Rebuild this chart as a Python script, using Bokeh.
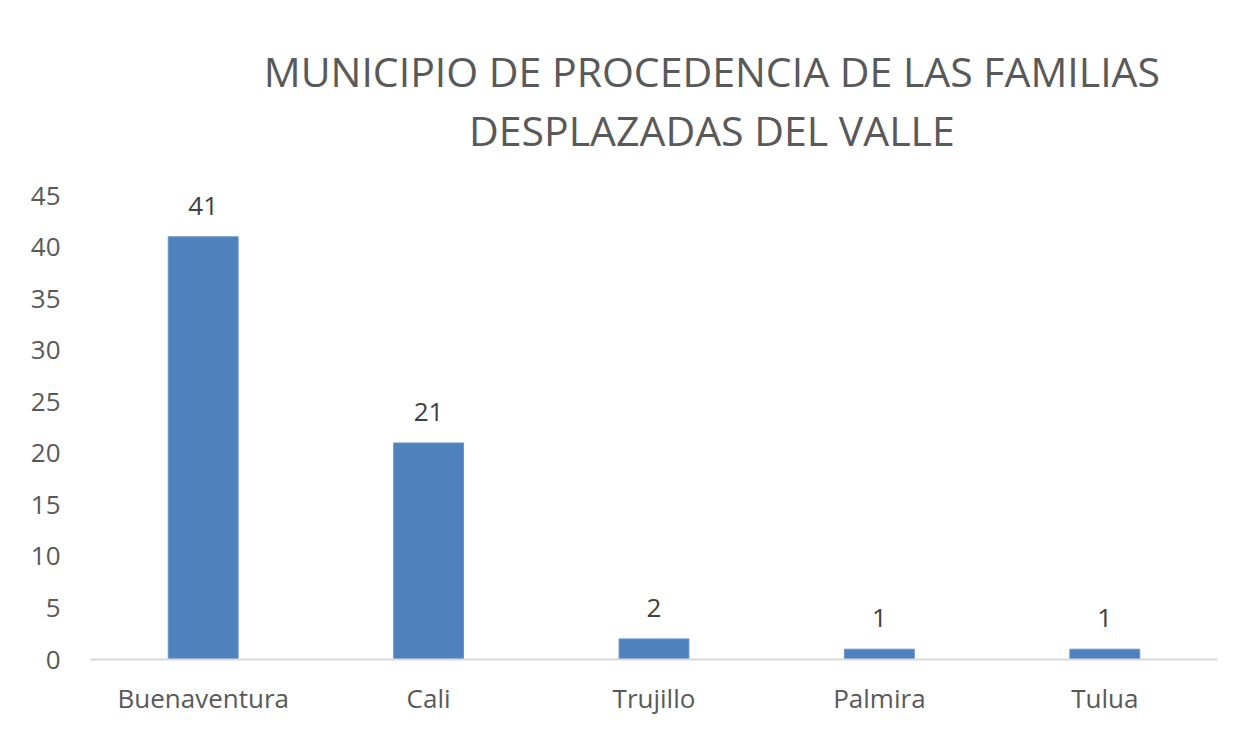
from bokeh.plotting import figure
from bokeh.models import ColumnDataSource, Range1d, FixedTicker, LabelSet
from bokeh.layouts import column
from bokeh.core.properties import value
from bokeh.embed import file_html
from bokeh.resources import INLINE

categories = ["Buenaventura", "Cali", "Trujillo", "Palmira", "Tulua"]
values = [41, 21, 2, 1, 1]
y_ticks = [0, 5, 10, 15, 20, 25, 30, 35, 40, 45]
title_lines = ["MUNICIPIO DE PROCEDENCIA DE LAS FAMILIAS", "DESPLAZADAS DEL VALLE"]

FONT = "Open Sans"
GRAY = "#595959"
W, H = 1236, 724
TH = 160  # height of the title strip

# ---- title strip (pixel coordinate system) ----
tp = figure(width=W, height=TH, x_range=Range1d(0, W), y_range=Range1d(0, TH),
            output_backend="svg", toolbar_location=None, min_border=0,
            x_axis_location=None, y_axis_location=None)
tp.grid.visible = False
tp.outline_line_color = None
tsrc = ColumnDataSource(dict(x=[681.5, 681.5], y=[TH - 70, TH - 129], t=title_lines))
tp.text(x="x", y="y", text="t", source=tsrc, text_align="center", text_baseline="middle",
        text_font=value(FONT), text_font_size="41px", text_color=GRAY)

# ---- chart ----
src = ColumnDataSource(dict(cat=categories, val=values, lbl=[str(v) for v in values]))

p = figure(x_range=categories, y_range=Range1d(0, 45), width=W, height=H - TH,
           output_backend="svg", toolbar_location=None,
           min_border_left=90, min_border_right=W - 1217,
           min_border_bottom=H - 659, min_border_top=195 - TH)

p.vbar(x="cat", top="val", width=0.31, source=src, fill_color="#4f81bd",
       line_color="#6a95c8", line_width=1)

labels = LabelSet(x="cat", y="val", text="lbl", source=src, text_align="center",
                  text_baseline="bottom", y_offset=22, text_font=value(FONT),
                  text_font_size="26px", text_color="#404040")
p.add_layout(labels)

p.xgrid.grid_line_color = None
p.ygrid.grid_line_color = None
p.outline_line_color = None

p.yaxis.ticker = FixedTicker(ticks=y_ticks)
p.yaxis.axis_line_color = None
p.yaxis.major_tick_line_color = None
p.yaxis.minor_tick_line_color = None
p.yaxis.major_label_standoff = 24
p.yaxis.major_label_text_font = FONT
p.yaxis.major_label_text_font_size = "26px"
p.yaxis.major_label_text_color = GRAY

p.xaxis.axis_line_color = "#d9d9d9"
p.xaxis.axis_line_width = 2
p.xaxis.major_tick_line_color = None
p.xaxis.minor_tick_line_color = None
p.xaxis.major_label_standoff = 14
p.xaxis.major_label_text_font = FONT
p.xaxis.major_label_text_font_size = "26px"
p.xaxis.major_label_text_color = GRAY

layout = column(tp, p, spacing=0)

open("out.html", "w").write(file_html(layout, INLINE))
